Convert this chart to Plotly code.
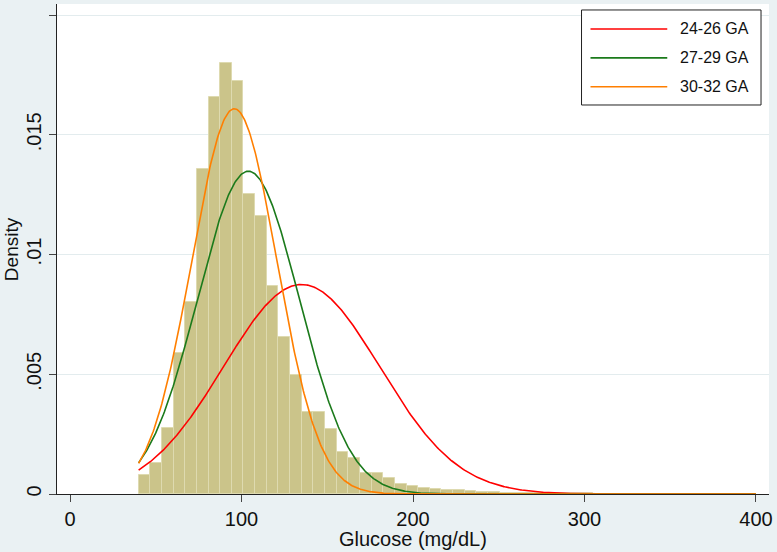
import numpy as np
import plotly.graph_objects as go

# ---- Data ----
bin_start = 40.0
bin_width = 360.0 / 53
hist_density = [
    0.00080, 0.00128, 0.00277, 0.00587, 0.00800, 0.01359, 0.01658, 0.01798,
    0.01724, 0.01254, 0.01159, 0.00870, 0.00657, 0.00498, 0.00344, 0.00344,
    0.00271, 0.00177, 0.00149, 0.00089, 0.00089, 0.00066, 0.00043, 0.00033,
    0.00024, 0.00020, 0.00017, 0.00015, 0.00012, 0.00010, 0.00007, 0.00006,
    0.00005, 0.00005, 0.00004, 0.00004, 0.00003, 0.00003, 0.00003, 0.00002,
    0.00002, 0.00002, 0.00002, 0.00002, 0.00001, 0.00001, 0.00001, 0.00001,
    0.00001, 0.00001, 0.00001, 0.00001, 0.00001,
]

group_names = ["24-26 GA", "27-29 GA", "30-32 GA"]
group_means = [135.0, 104.0, 95.8]
group_sds = [45.6, 29.6, 24.8]
group_colors = ["#FF0000", "#1B7A1B", "#FF7F00"]

x_ticks = [0, 100, 200, 300, 400]
y_ticks = [0, 0.005, 0.01, 0.015, 0.02]
y_tick_text = ["0", ".005", ".01", ".015", ".02"]

# ---- Figure ----
bin_centers = [bin_start + bin_width * (i + 0.5) for i in range(len(hist_density))]

fig = go.Figure()
fig.add_trace(go.Bar(
    x=bin_centers, y=hist_density, width=bin_width,
    marker=dict(color="#CBC48A", line=dict(color="#DEDAB0", width=1)),
    showlegend=False, hoverinfo="skip",
))

xs = np.linspace(40, 400, 721)
for name, m, s, c in zip(group_names, group_means, group_sds, group_colors):
    ys = np.exp(-0.5 * ((xs - m) / s) ** 2) / (s * np.sqrt(2 * np.pi))
    fig.add_trace(go.Scatter(x=xs, y=ys, mode="lines", name=name,
                             line=dict(color=c, width=1.6), showlegend=False))

FONT = "Liberation Sans, Helvetica, Arial, sans-serif"

# custom legend (Stata style)
x0, x1 = 0.7367, 0.9888
y0, y1 = 0.7939, 0.9878
fig.add_shape(type="rect", xref="paper", yref="paper", x0=x0, x1=x1, y0=y0, y1=y1,
              line=dict(color="#222222", width=1), fillcolor="white", layer="above")
entry_y = [0.949, 0.890, 0.831]
for name, c, yy in zip(group_names, group_colors, entry_y):
    fig.add_shape(type="line", xref="paper", yref="paper", x0=0.7493, x1=0.8571,
                  y0=yy, y1=yy, line=dict(color=c, width=1.6), layer="above")
    fig.add_annotation(xref="paper", yref="paper", x=0.8742, y=yy, text=name,
                       showarrow=False, xanchor="left", yanchor="middle",
                       borderpad=0,
                       font=dict(family=FONT, size=16, color="#111111"))

# axis titles placed like Stata
fig.add_annotation(xref="paper", yref="paper", x=0.5, y=-0.092, text="Glucose (mg/dL)",
                   showarrow=False, xanchor="center", yanchor="middle",
                   font=dict(family=FONT, size=20, color="#111111"))
fig.add_annotation(xref="paper", yref="paper", x=-0.0644, y=0.5, text="Density",
                   showarrow=False, xanchor="center", yanchor="middle", textangle=-90,
                   font=dict(family=FONT, size=19, color="#111111"))

fig.update_layout(
    width=777, height=552,
    margin=dict(l=57, r=6, t=4, b=58),
    paper_bgcolor="#EAF1F3", plot_bgcolor="white",
    font=dict(family=FONT, color="#111111"),
    bargap=0,
)
fig.update_xaxes(
    range=[-7.6, 407.6], tickvals=x_ticks, ticks="outside", ticklen=7,
    tickcolor="#444444", showline=True, linecolor="#222222", linewidth=1,
    showgrid=False, zeroline=False, tickfont=dict(size=20),
)
fig.update_yaxes(
    range=[0, 0.02046], tickvals=y_ticks, ticktext=y_tick_text, tickangle=-90,
    ticks="outside", ticklen=7, tickcolor="#444444", showline=True,
    linecolor="#222222", linewidth=1, showgrid=True, gridcolor="#E3ECEE",
    gridwidth=1, zeroline=False, tickfont=dict(size=20),
)

fig.write_html("out.html")
